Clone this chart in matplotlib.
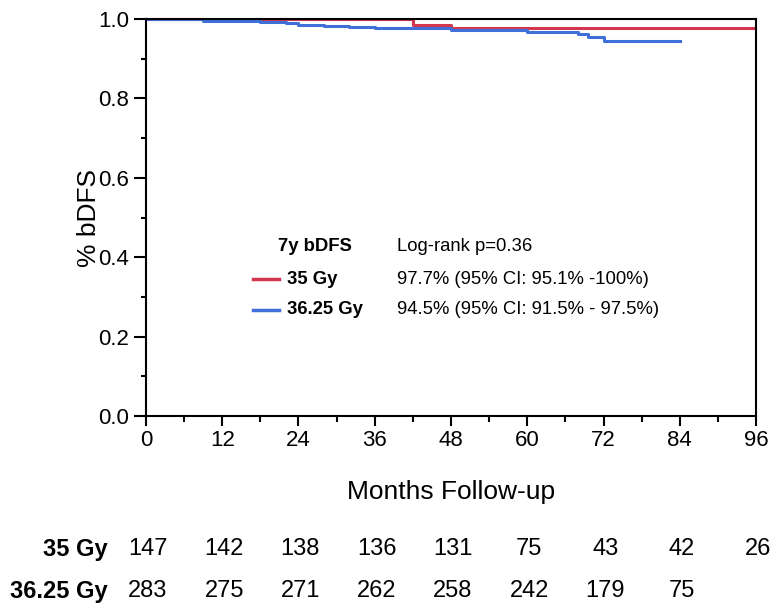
import numpy as np
import matplotlib
matplotlib.use('Agg')
import matplotlib.pyplot as plt
from matplotlib.ticker import MultipleLocator

# Kaplan-Meier Stufen
t_35 = [0, 21, 42, 48, 96]
s_35 = [1.0, 0.999, 0.985, 0.977, 0.977]

t_3625 = [0, 9, 14, 18, 22, 24, 28, 32, 36, 48, 60, 68, 69.5, 72, 84]
s_3625 = [1.0, 0.996, 0.994, 0.992, 0.990, 0.985, 0.983, 0.981, 0.977, 0.973, 0.966, 0.961, 0.955, 0.945, 0.945]

# Patienten unter Risiko
risk_times = [0, 12, 24, 36, 48, 60, 72, 84, 96]
risk_35 = [147, 142, 138, 136, 131, 75, 43, 42, 26]
risk_3625 = [283, 275, 271, 262, 258, 242, 179, 75]

red = '#d2374f'
blue = '#3f6fd8'
plt.rcParams['font.family'] = ['Liberation Sans', 'DejaVu Sans']

fig = plt.figure(figsize=(7.84, 6.09), dpi=100)
ax = fig.add_axes([0.1862, 0.3169, 0.7781, 0.6519])

ax.step(t_35, s_35, where='post', color=red, lw=2.2)
ax.step(t_3625, s_3625, where='post', color=blue, lw=2.2)

ax.set_xlim(0, 96)
ax.set_ylim(0, 1.0)
ax.xaxis.set_major_locator(MultipleLocator(12))
ax.xaxis.set_minor_locator(MultipleLocator(6))
ax.yaxis.set_major_locator(MultipleLocator(0.2))
ax.yaxis.set_minor_locator(MultipleLocator(0.1))
ax.yaxis.set_major_formatter(plt.FuncFormatter(lambda v, p: f'{v:.1f}'))
for s in ax.spines.values():
    s.set_linewidth(1.5)
ax.tick_params(axis='y', which='major', length=9, width=1.5, labelsize=16, pad=3)
ax.tick_params(axis='y', which='minor', length=3.6, width=1.5)
ax.tick_params(axis='x', which='major', length=7, width=1.5, labelsize=16, pad=3)
ax.tick_params(axis='x', which='minor', length=4.5, width=1.5)
ax.set_xlabel('Months Follow-up', fontsize=19)
ax.set_ylabel('% bDFS', fontsize=19)
ax.xaxis.set_label_coords(0.5, -0.162)
ax.yaxis.set_label_coords(-0.073, 0.5)

# Legende im Plot
fs = 13.3
ax.text(20.8, 0.428, '7y bDFS', fontsize=fs, fontweight='bold', va='center')
ax.text(39.5, 0.428, 'Log-rank p=0.36', fontsize=fs, va='center')
ax.plot([16.8, 21.0], [0.345, 0.345], color=red, lw=2.5)
ax.text(22.2, 0.345, '35 Gy', fontsize=fs, fontweight='bold', va='center')
ax.text(39.5, 0.345, '97.7% (95% CI: 95.1% -100%)', fontsize=fs, va='center')
ax.plot([16.8, 21.0], [0.268, 0.268], color=blue, lw=2.5)
ax.text(22.2, 0.268, '36.25 Gy', fontsize=fs, fontweight='bold', va='center')
ax.text(39.5, 0.268, '94.5% (95% CI: 91.5% - 97.5%)', fontsize=fs, va='center')

# Tabelle unter dem Plot
trans = ax.get_xaxis_transform()
y1 = -(549 - 416) / 397
y2 = -(591 - 416) / 397
ax.text(-6, y1, '35 Gy', transform=trans, ha='right', va='center', fontsize=17,
        fontweight='bold', clip_on=False)
ax.text(-6, y2, '36.25 Gy', transform=trans, ha='right', va='center', fontsize=17,
        fontweight='bold', clip_on=False)
for t, n in zip(risk_times, risk_35):
    ax.text(t + 0.3, y1, str(n), transform=trans, ha='center', va='center', fontsize=17,
            clip_on=False)
for t, n in zip(risk_times, risk_3625):
    ax.text(t + 0.3, y2, str(n), transform=trans, ha='center', va='center', fontsize=17,
            clip_on=False)

fig.savefig('out.png', dpi=100)
